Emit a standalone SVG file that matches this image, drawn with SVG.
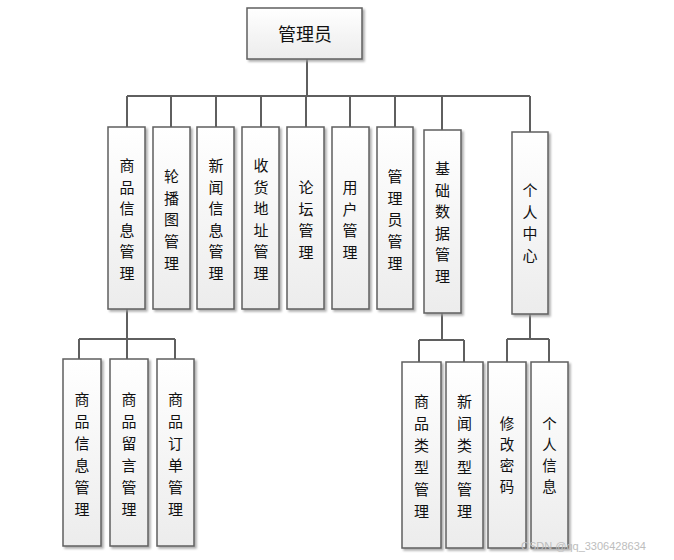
<svg xmlns="http://www.w3.org/2000/svg" width="674" height="560" viewBox="0 0 674 560">
<defs>
<linearGradient id="g" x1="0" y1="0" x2="0" y2="1">
<stop offset="0" stop-color="#ffffff"/>
<stop offset="1" stop-color="#ececec"/>
</linearGradient>
<filter id="sh" x="-20%" y="-10%" width="140%" height="120%">
<feDropShadow dx="2" dy="2" stdDeviation="1" flood-color="#9a9a9a" flood-opacity="0.8"/>
</filter>
</defs>
<style>
rect.n{fill:url(#g);stroke:#5f5f5f;stroke-width:1.5;filter:url(#sh)}
text.t{font-family:"Noto Sans CJK SC","Noto Sans CJK JP",sans-serif;font-size:15px;fill:#111;text-anchor:middle;dominant-baseline:central}
text.s{font-size:14.5px}
.c path{fill:none;stroke:#5f5f5f;stroke-width:2}
text.w{font-family:"Liberation Sans",Arial,sans-serif;font-size:11px;fill:#bdbdbd}
</style>
<g class="c" id="connectors">
<path d="M307 59V96M127 96H530"/>
<path d="M127 96V127M171 96V127M216 96V127M261 96V127M306 96V127M350 96V127M395 96V127M442 96V130M530 96V132"/>
<path d="M127 309V339M79 339H175M79 339V359M127 339V359M175 339V359"/>
<path d="M442 313V340M419 340H464M419 340V362M464 340V362"/>
<path d="M530 314V339M507 339H549M507 339V362M549 339V362"/>
</g>
<g id="admin"><rect class="n" x="247" y="8" width="115" height="51"/><text class="t" x="305" y="33" style="font-size:18px">管理员</text></g>
<g id="n1"><rect class="n" x="108" y="127" width="37" height="182"/><text class="t"><tspan x="127" y="164">商</tspan><tspan x="127" y="185.6">品</tspan><tspan x="127" y="207.2">信</tspan><tspan x="127" y="228.8">息</tspan><tspan x="127" y="250.4">管</tspan><tspan x="127" y="272">理</tspan></text></g>
<g id="n2"><rect class="n" x="153" y="127" width="37" height="182"/><text class="t"><tspan x="171.5" y="175">轮</tspan><tspan x="171.5" y="196.7">播</tspan><tspan x="171.5" y="218.4">图</tspan><tspan x="171.5" y="240.1">管</tspan><tspan x="171.5" y="261.8">理</tspan></text></g>
<g id="n3"><rect class="n" x="197" y="127" width="37" height="182"/><text class="t"><tspan x="216" y="164">新</tspan><tspan x="216" y="185.6">闻</tspan><tspan x="216" y="207.2">信</tspan><tspan x="216" y="228.8">息</tspan><tspan x="216" y="250.4">管</tspan><tspan x="216" y="272">理</tspan></text></g>
<g id="n4"><rect class="n" x="242" y="127" width="37" height="182"/><text class="t"><tspan x="261" y="164">收</tspan><tspan x="261" y="185.6">货</tspan><tspan x="261" y="207.2">地</tspan><tspan x="261" y="228.8">址</tspan><tspan x="261" y="250.4">管</tspan><tspan x="261" y="272">理</tspan></text></g>
<g id="n5"><rect class="n" x="287" y="127" width="37" height="182"/><text class="t"><tspan x="306" y="186">论</tspan><tspan x="306" y="207.7">坛</tspan><tspan x="306" y="229.4">管</tspan><tspan x="306" y="251.1">理</tspan></text></g>
<g id="n6"><rect class="n" x="332" y="127" width="37" height="182"/><text class="t"><tspan x="350" y="186">用</tspan><tspan x="350" y="207.7">户</tspan><tspan x="350" y="229.4">管</tspan><tspan x="350" y="251.1">理</tspan></text></g>
<g id="n7"><rect class="n" x="377" y="127" width="36" height="182"/><text class="t"><tspan x="395" y="175">管</tspan><tspan x="395" y="196.7">理</tspan><tspan x="395" y="218.4">员</tspan><tspan x="395" y="240.1">管</tspan><tspan x="395" y="261.8">理</tspan></text></g>
<g id="n8"><rect class="n" x="424" y="130" width="37" height="183"/><text class="t"><tspan x="442.5" y="167">基</tspan><tspan x="442.5" y="188.6">础</tspan><tspan x="442.5" y="210.2">数</tspan><tspan x="442.5" y="231.8">据</tspan><tspan x="442.5" y="253.4">管</tspan><tspan x="442.5" y="275">理</tspan></text></g>
<g id="n9"><rect class="n" x="512" y="132" width="36" height="182"/><text class="t"><tspan x="530" y="189">个</tspan><tspan x="530" y="210.7">人</tspan><tspan x="530" y="232.4">中</tspan><tspan x="530" y="254.1">心</tspan></text></g>
<g id="s1"><rect class="n" x="63" y="359" width="38" height="187"/><text class="t"><tspan x="82" y="398">商</tspan><tspan x="82" y="420">品</tspan><tspan x="82" y="442">信</tspan><tspan x="82" y="464">息</tspan><tspan x="82" y="486">管</tspan><tspan x="82" y="508">理</tspan></text></g>
<g id="s2"><rect class="n" x="110" y="359" width="38" height="187"/><text class="t"><tspan x="129" y="398">商</tspan><tspan x="129" y="420">品</tspan><tspan x="129" y="442">留</tspan><tspan x="129" y="464">言</tspan><tspan x="129" y="486">管</tspan><tspan x="129" y="508">理</tspan></text></g>
<g id="s3"><rect class="n" x="157" y="359" width="37" height="187"/><text class="t"><tspan x="175.5" y="398">商</tspan><tspan x="175.5" y="420">品</tspan><tspan x="175.5" y="442">订</tspan><tspan x="175.5" y="464">单</tspan><tspan x="175.5" y="486">管</tspan><tspan x="175.5" y="508">理</tspan></text></g>
<g id="s4"><rect class="n" x="402" y="362" width="39" height="186"/><text class="t"><tspan x="421.5" y="400">商</tspan><tspan x="421.5" y="422">品</tspan><tspan x="421.5" y="444">类</tspan><tspan x="421.5" y="466">型</tspan><tspan x="421.5" y="488">管</tspan><tspan x="421.5" y="510">理</tspan></text></g>
<g id="s5"><rect class="n" x="446" y="362" width="37" height="186"/><text class="t"><tspan x="464.5" y="400">新</tspan><tspan x="464.5" y="422">闻</tspan><tspan x="464.5" y="444">类</tspan><tspan x="464.5" y="466">型</tspan><tspan x="464.5" y="488">管</tspan><tspan x="464.5" y="510">理</tspan></text></g>
<g id="s6"><rect class="n" x="488" y="362" width="38" height="186"/><text class="t s"><tspan x="507" y="422">修</tspan><tspan x="507" y="443">改</tspan><tspan x="507" y="464">密</tspan><tspan x="507" y="485">码</tspan></text></g>
<g id="s7"><rect class="n" x="531" y="362" width="37" height="186"/><text class="t s"><tspan x="549.5" y="422">个</tspan><tspan x="549.5" y="443">人</tspan><tspan x="549.5" y="464">信</tspan><tspan x="549.5" y="485">息</tspan></text></g>
<text class="w" x="521" y="550">CSDN @qq_3306428634</text>
</svg>
